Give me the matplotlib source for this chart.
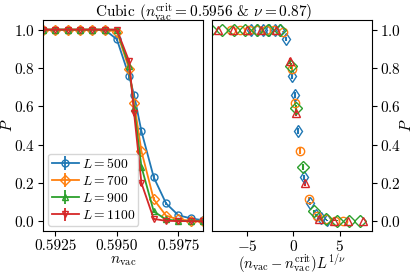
import numpy as np
import matplotlib
matplotlib.use("Agg")
import matplotlib.pyplot as plt

plt.rcParams['font.family'] = 'serif'
plt.rcParams['font.serif'] = ['cmr10']
plt.rcParams['mathtext.fontset'] = 'cm'
plt.rcParams['axes.formatter.use_mathtext'] = True
plt.rcParams['font.size'] = 11

n_crit = 0.5956
nu = 0.87

n_vac = [0.592, 0.5925, 0.593, 0.5935, 0.594, 0.5945, 0.595, 0.5955, 0.5957,
         0.596, 0.5965, 0.597, 0.5975, 0.598, 0.5985]
sizes = [500, 700, 900, 1100]
P_500 = [1, 1, 1, 1, 1, 1, 0.95, 0.757, 0.66, 0.47, 0.23, 0.094, 0.032, 0.016, 0.006]
P_700 = [1, 1, 1, 1, 1, 1, 0.99, 0.795, 0.62, 0.366, 0.115, 0.03, 0.01, 0.004, 0.002]
P_900 = [1, 1, 1, 1, 1, 1, 1.0, 0.81, 0.59, 0.285, 0.052, 0.01, 0.003, 0.002, 0.001]
P_1100 = [1, 1, 1, 1, 1, 1, 1.0, 0.835, 0.566, 0.2, 0.013, 0.003, 0.002, 0.001, 0.0]
err_500 = [0, 0, 0, 0, 0, 0, 0.01, 0.015, 0.015, 0.015, 0.012, 0.008, 0.005, 0.003, 0.002]
err_700 = [0, 0, 0, 0, 0, 0, 0.003, 0.015, 0.015, 0.015, 0.01, 0.005, 0.003, 0.002, 0.001]
err_900 = [0, 0, 0, 0, 0, 0, 0.0, 0.015, 0.015, 0.015, 0.007, 0.003, 0.002, 0.001, 0.001]
err_1100 = [0, 0, 0, 0, 0, 0, 0.0, 0.015, 0.015, 0.015, 0.004, 0.002, 0.001, 0.001, 0.0]

P_all = [P_500, P_700, P_900, P_1100]
err_all = [err_500, err_700, err_900, err_1100]
colors = ['#1f77b4', '#ff7f0e', '#2ca02c', '#d62728']
left_markers = ['o', 'D', '^', 'v']
right_markers = ['d', 'o', 'D', '^']

fig = plt.figure(figsize=(4.15, 2.75), dpi=100)
ax1 = fig.add_axes([0.1036, 0.16, 0.3855, 0.767])
ax2 = fig.add_axes([0.5108, 0.16, 0.3855, 0.767])

n_arr = np.array(n_vac)
for L, P, e, c, m1, m2 in zip(sizes, P_all, err_all, colors, left_markers, right_markers):
    ax1.errorbar(n_arr, P, yerr=e, color=c, marker=m1, mfc='none', ms=5,
                 lw=1.3, mew=1.0, label=r'$L = %d$' % L)
    x_scaled = (n_arr - n_crit) * L ** (1.0 / nu)
    ax2.errorbar(x_scaled, P, yerr=e, color=c, marker=m2, mfc='none', ms=6,
                 ls='none', mew=1.0)

for ax in (ax1, ax2):
    ax.tick_params(labelsize=11, pad=2.5)

ax1.set_xlim(0.592, 0.5985)
ax1.set_xticks([0.5925, 0.5950, 0.5975])
ax1.set_xticklabels(['0.5925', '0.5950', '0.5975'])
ax1.set_yticks([0.0, 0.2, 0.4, 0.6, 0.8, 1.0])
ax1.set_ylim(-0.05, 1.05)
ax1.set_xlabel(r'$n_{\mathrm{vac}}$', labelpad=1, fontsize=11)
ax1.set_ylabel(r'$P$', labelpad=-1, fontsize=11)
ax1.legend(loc='lower left', fontsize=9.8, handlelength=2.0, borderpad=0.25,
           labelspacing=0.3, handletextpad=0.2, borderaxespad=0.4)

ax2.set_xlim(-8.8, 8.5)
ax2.set_ylim(-0.05, 1.05)
ax2.set_xticks([-5, 0, 5])
ax2.set_yticks([0.0, 0.2, 0.4, 0.6, 0.8, 1.0])
ax2.yaxis.tick_right()
ax2.yaxis.set_label_position('right')
ax2.set_ylabel(r'$P$', labelpad=-2, fontsize=11)
ax2.set_xlabel(r'$(n_{\mathrm{vac}} - n_{\mathrm{vac}}^{\mathrm{crit}})L^{1/\nu}$',
               labelpad=-1, fontsize=10.5)

fig.suptitle(r'Cubic ($n_{\mathrm{vac}}^{\mathrm{crit}} = 0.5956$ & $\nu = 0.87$)',
             x=0.49, y=0.995, fontsize=11)

fig.savefig('out.png', dpi=100)
